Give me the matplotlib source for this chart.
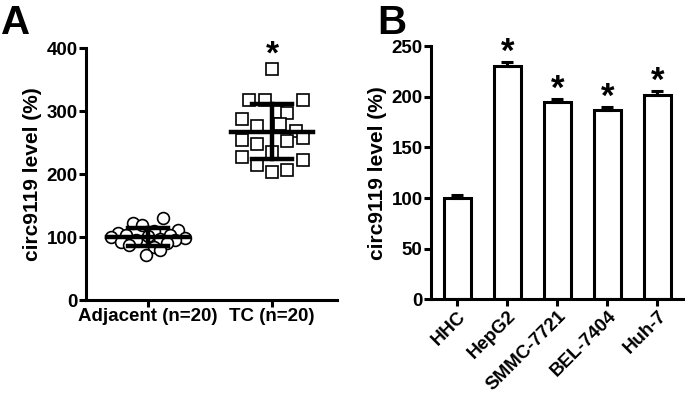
import numpy as np
import matplotlib
matplotlib.use("Agg")
import matplotlib.pyplot as plt

plt.rcParams['font.family'] = ['Liberation Sans', 'DejaVu Sans']
plt.rcParams['font.weight'] = 'bold'

# Panel A data (circ9119 level, %)
adjacent = [130, 123, 119, 112, 110, 106, 104, 103, 102, 100,
            99, 97, 96, 95, 93, 90, 88, 85, 79, 72]
tc = [367, 318, 317, 317, 298, 297, 287, 280, 276, 268,
      254, 252, 258, 248, 235, 227, 223, 215, 204, 206]
group_labels = ['Adjacent (n=20)', 'TC (n=20)']

# Panel B data
cell_lines = ['HHC', 'HepG2', 'SMMC-7721', 'BEL-7404', 'Huh-7']
cell_means = [100, 230, 195, 187, 202]
cell_errs = [3, 4, 3, 3, 4]

# horizontal scatter offsets for dot plots
adj_offsets = [0.12, -0.12, -0.05, 0.24, 0.05, -0.24, 0.18, -0.18, 0.0, -0.3,
               0.3, 0.1, -0.1, 0.22, -0.22, 0.15, -0.15, 0.05, 0.1, -0.02]
tc_offsets = [0.0, -0.19, -0.06, 0.25, 0.04, 0.12, -0.24, 0.06, -0.12, 0.19,
              -0.24, 0.12, 0.25, -0.12, 0.0, -0.24, 0.25, -0.12, 0.0, 0.12]

lw = 2.2
fig = plt.figure(figsize=(6.85, 3.97), dpi=100)

# ---- Panel A ----
ax1 = fig.add_axes([0.1255, 0.244, 0.366, 0.635])
ax1.plot(np.array(adj_offsets) + 0, adjacent, 'o', ms=8.5, mfc='white',
         mec='black', mew=1.2, zorder=2)
ax1.plot(np.array(tc_offsets) + 1, tc, 's', ms=8.5, mfc='white',
         mec='black', mew=1.2, zorder=2)
for i, vals in enumerate([adjacent, tc]):
    m = np.mean(vals)
    sd = np.std(vals, ddof=1)
    ax1.plot([i - 0.33, i + 0.33], [m, m], color='black', lw=3.2, zorder=3)
    ax1.plot([i, i], [m - sd, m + sd], color='black', lw=3.2, zorder=3)
    ax1.plot([i - 0.16, i + 0.16], [m + sd, m + sd], color='black', lw=3.2, zorder=3)
    ax1.plot([i - 0.16, i + 0.16], [m - sd, m - sd], color='black', lw=3.2, zorder=3)
ax1.annotate('*', (1, max(tc)), xytext=(0, -1), textcoords='offset points',
             ha='center', va='bottom', fontsize=24, fontweight='bold')
ax1.set_xlim(-0.5, 1.52)
ax1.set_ylim(0, 400)
ax1.set_yticks([0, 100, 200, 300, 400])
ax1.set_xticks([0, 1])
ax1.set_xticklabels(group_labels)
ax1.set_ylabel('circ9119 level (%)', fontsize=15, fontweight='bold', labelpad=3)

# ---- Panel B ----
ax2 = fig.add_axes([0.629, 0.246, 0.371, 0.638])
x = np.arange(len(cell_lines))
ax2.bar(x, cell_means, width=0.54, color='white', edgecolor='black',
        linewidth=lw, zorder=2)
ax2.errorbar(x, cell_means, yerr=[np.zeros(len(cell_errs)), cell_errs],
             fmt='none', ecolor='black', elinewidth=lw, capsize=4,
             capthick=lw, zorder=3)
for i in range(1, len(cell_lines)):
    ax2.annotate('*', (x[i], cell_means[i] + cell_errs[i]), xytext=(0, -5),
                 textcoords='offset points', ha='center', va='bottom',
                 fontsize=25, fontweight='bold')
ax2.set_xlim(-0.53, 4.55)
ax2.set_ylim(0, 250)
ax2.set_yticks([0, 50, 100, 150, 200, 250])
ax2.set_xticks(x)
ax2.set_xticklabels(cell_lines, rotation=45, ha='right', rotation_mode='anchor')
ax2.set_ylabel('circ9119 level (%)', fontsize=15, fontweight='bold', labelpad=3)

for ax in (ax1, ax2):
    for s in ('top', 'right'):
        ax.spines[s].set_visible(False)
    for s in ('left', 'bottom'):
        ax.spines[s].set_linewidth(lw)
    ax.tick_params(width=lw, length=5, labelsize=13.5, pad=1)
    for lab in ax.get_xticklabels() + ax.get_yticklabels():
        lab.set_fontweight('bold')

fig.text(0.002, 0.99, 'A', fontsize=29, fontweight='bold', va='top', ha='left')
fig.text(0.551, 0.99, 'B', fontsize=29, fontweight='bold', va='top', ha='left')

fig.savefig('out.png', dpi=100)
